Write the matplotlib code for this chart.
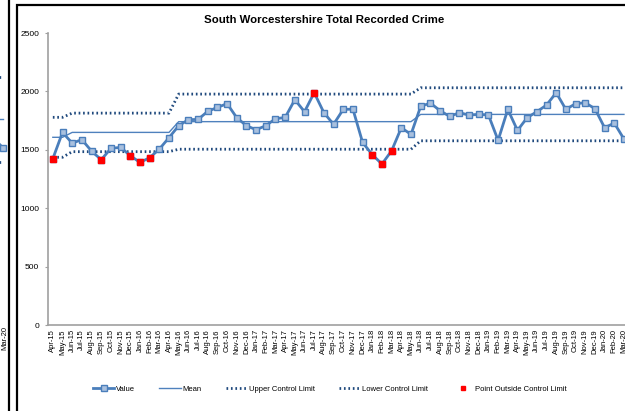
import numpy as np
import matplotlib

matplotlib.use("Agg")
import matplotlib.pyplot as plt
from matplotlib.lines import Line2D
from matplotlib.patches import Rectangle

plt.rcParams["font.family"] = ["Liberation Sans Narrow", "Liberation Sans", "DejaVu Sans"]

# --- data ---
months = [
    "Apr-15", "May-15", "Jun-15", "Jul-15", "Aug-15", "Sep-15", "Oct-15", "Nov-15", "Dec-15", "Jan-16",
    "Feb-16", "Mar-16", "Apr-16", "May-16", "Jun-16", "Jul-16", "Aug-16", "Sep-16", "Oct-16", "Nov-16",
    "Dec-16", "Jan-17", "Feb-17", "Mar-17", "Apr-17", "May-17", "Jun-17", "Jul-17", "Aug-17", "Sep-17",
    "Oct-17", "Nov-17", "Dec-17", "Jan-18", "Feb-18", "Mar-18", "Apr-18", "May-18", "Jun-18", "Jul-18",
    "Aug-18", "Sep-18", "Oct-18", "Nov-18", "Dec-18", "Jan-19", "Feb-19", "Mar-19", "Apr-19", "May-19",
    "Jun-19", "Jul-19", "Aug-19", "Sep-19", "Oct-19", "Nov-19", "Dec-19", "Jan-20", "Feb-20", "Mar-20",
]
values = [
    1424, 1649, 1557, 1587, 1489, 1415, 1512, 1521, 1450, 1392,
    1432, 1506, 1604, 1706, 1758, 1760, 1829, 1863, 1895, 1775,
    1706, 1672, 1706, 1766, 1777, 1929, 1826, 1989, 1818, 1718,
    1846, 1848, 1563, 1458, 1378, 1492, 1689, 1632, 1872, 1900,
    1835, 1786, 1818, 1797, 1803, 1798, 1581, 1846, 1666, 1775,
    1826, 1883, 1989, 1846, 1895, 1903, 1852, 1689, 1729, 1592,
]
mean = [1607] * 2 + [1649] * 11 + [1741] * 25 + [1803] * 22
ucl = [1778] * 2 + [1814] * 11 + [1977] * 25 + [2031] * 22
lcl = [1436] * 2 + [1484] * 11 + [1505] * 25 + [1577] * 22

# tail of the neighbouring chart on the left
left_values = [1601, 1516]
left_mean = [1764, 1764]
left_ucl = [2124, 2124]
left_lcl = [1396, 1396]

W, H = 625, 411
fig = plt.figure(figsize=(W / 100, H / 100), dpi=100)

LINE = "#4a7ebb"
FACE = "#a9c0de"
DOT = "#1f497d"


def fx(px):
    return px / W


def fy(py):
    return 1 - py / H


x = np.arange(len(months))
ax = fig.add_axes([fx(48), fy(325), 60 * 9.68 / W, 292 / H])
ax.plot(x, ucl, color=DOT, lw=2, ls=(0, (0.6, 1.0)), label="Upper Control Limit")
ax.plot(x, lcl, color=DOT, lw=2, ls=(0, (0.6, 1.0)), label="Lower Control Limit")
ax.plot(x, mean, color="#4f81bd", lw=1, label="Mean")
ax.plot(x, values, color=LINE, lw=2, marker="s", ms=5, mfc=FACE, mec=LINE, mew=1,
        label="Value")
vals = np.array(values)
out = (vals > np.array(ucl)) | (vals < np.array(lcl))
ax.plot(x[out], vals[out], ls="none", marker="s", ms=5, color="#ff0000",
        label="Point Outside Control Limit")

ax.set_xlim(-0.5, len(months) - 0.5)
ax.set_ylim(0, 2500)
ax.set_yticks([0, 500, 1000, 1500, 2000, 2500])
ax.set_xticks(x)
ax.set_xticklabels(months, rotation=90, fontsize=5.5)
ax.tick_params(axis="y", labelsize=6, length=2.5, color="#a0a0a0", pad=4)
ax.tick_params(axis="x", length=0, pad=3)
for s in ["top", "right"]:
    ax.spines[s].set_visible(False)
for s in ["left", "bottom"]:
    ax.spines[s].set_color("#a0a0a0")
    ax.spines[s].set_linewidth(1.2)
ax.set_facecolor("none")

fig.text(fx(324), fy(20), "South Worcestershire Total Recorded Crime",
         ha="center", va="center", fontsize=8.2, fontweight="bold")

handles = [
    Line2D([], [], color=LINE, lw=2, marker="s", ms=4, mfc=FACE, mec=LINE),
    Line2D([], [], color="#4f81bd", lw=1),
    Line2D([], [], color=DOT, lw=2, ls=(0, (0.6, 1.0))),
    Line2D([], [], color=DOT, lw=2, ls=(0, (0.6, 1.0))),
    Line2D([], [], ls="none", marker="s", ms=3, color="#ff0000"),
]
labels = ["Value", "Mean", "Upper Control Limit", "Lower Control Limit",
          "Point Outside Control Limit"]
fig.legend(handles, labels, loc="center", bbox_to_anchor=(fx(330), fy(389)),
           ncol=5, frameon=False, fontsize=5.5, handlelength=2.8,
           handletextpad=0.2, columnspacing=3.2)

# left neighbour fragment, last point sits at about x = 3 px
axl = fig.add_axes([fx(3 - 9.68), fy(325), 9.68 * 1.5 / W, 292 / H])
lx = np.arange(len(left_values))
axl.plot(lx, left_ucl, color=DOT, lw=2, ls=(0, (0.6, 1.0)))
axl.plot(lx, left_lcl, color=DOT, lw=2, ls=(0, (0.6, 1.0)))
axl.plot(lx, left_mean, color="#4f81bd", lw=1)
axl.plot(lx, left_values, color=LINE, lw=2, marker="s", ms=5, mfc=FACE, mec=LINE)
axl.set_xlim(0, 1.5)
axl.set_ylim(0, 2500)
axl.axis("off")
fig.text(fx(5), fy(338), "Mar-20", rotation=90, ha="center", va="center", fontsize=5.5)

# chart frames
fig.patches.append(Rectangle((fx(17), fy(430)), 1, fy(5) - fy(430), transform=fig.transFigure,
                             fill=False, ec="black", lw=1.6))
fig.add_artist(Line2D([fx(8.5), fx(8.5)], [0, 1], color="black", lw=1.6))

fig.savefig("out.png", dpi=100)
